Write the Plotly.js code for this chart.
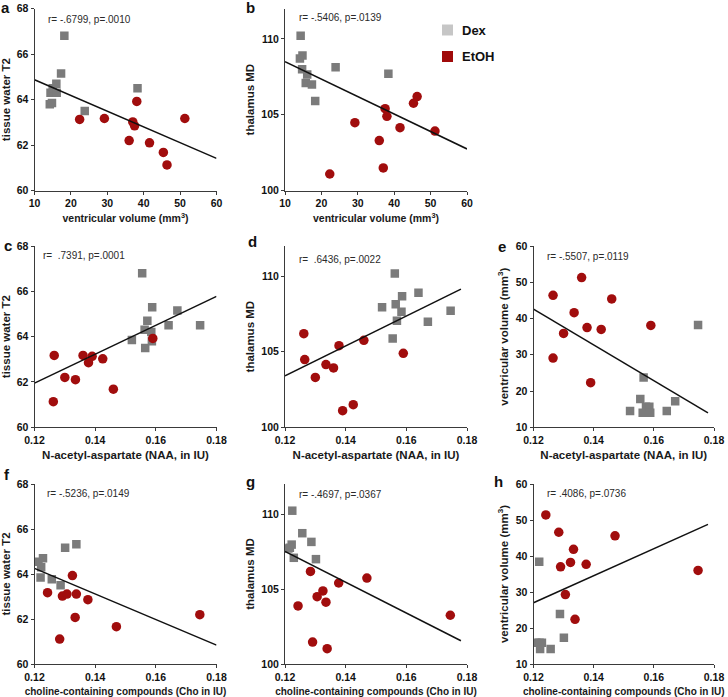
<!DOCTYPE html>
<html><head><meta charset="utf-8">
<script src="https://cdn.plot.ly/plotly-3.0.1.min.js"></script>
<style>html,body{margin:0;padding:0;background:#fff;}</style>
</head><body>
<div id="chart" style="width:728px;height:697px;"></div>
<script>
// ---------- data ----------
// a: ventricular volume vs tissue water T2
const aDexX  = [14.2, 14.8, 14.4, 15.0, 16.0, 16.1, 17.3, 18.2, 23.8, 38.3];
const aDexY  = [63.80, 63.85, 64.30, 64.50, 64.70, 64.30, 65.15, 66.80, 63.50, 64.50];
const aEtohX = [22.4, 29.2, 36.0, 37.0, 37.5, 38.1, 41.6, 45.4, 46.4, 51.3];
const aEtohY = [63.13, 63.17, 62.20, 63.02, 62.85, 63.92, 62.10, 61.68, 61.13, 63.17];
const aFitX  = [10, 60];
const aFitY  = [64.87, 61.42];
// b: ventricular volume vs thalamus MD
const bDexX  = [14.3, 14.8, 14.1, 14.7, 16.1, 15.7, 17.4, 18.3, 23.9, 38.4];
const bDexY  = [110.2, 108.9, 108.7, 108.0, 107.65, 107.1, 107.0, 105.9, 108.13, 107.7];
const bEtohX = [22.3, 29.2, 35.9, 37.0, 37.5, 38.0, 41.6, 45.3, 46.3, 51.2];
const bEtohY = [101.1, 104.48, 103.3, 101.5, 105.4, 104.9, 104.15, 105.76, 106.2, 103.93];
const bFitX  = [10, 60];
const bFitY  = [108.5, 102.75];
// c: NAA vs tissue water T2
const cDexX  = [0.1521, 0.1555, 0.1565, 0.1563, 0.1572, 0.1585, 0.1587, 0.1588, 0.1642, 0.1671, 0.1746];
const cDexY  = [63.85, 66.80, 63.50, 64.30, 64.70, 64.20, 63.80, 65.30, 64.50, 65.15, 64.50];
const cEtohX = [0.1390, 0.1265, 0.1300, 0.1425, 0.1378, 0.1590, 0.1335, 0.1460, 0.1262, 0.1360];
const cEtohY = [63.13, 63.17, 62.20, 63.02, 62.85, 63.92, 62.10, 61.68, 61.13, 63.17];
const cFitX  = [0.12, 0.18];
const cFitY  = [61.95, 65.78];
// d: NAA vs thalamus MD
const dDexX  = [0.1562, 0.1640, 0.1586, 0.1565, 0.1520, 0.1584, 0.1746, 0.1569, 0.1671, 0.1555];
const dDexY  = [110.18, 108.90, 108.67, 108.14, 107.94, 107.65, 107.72, 107.06, 106.99, 105.88];
const dEtohX = [0.1390, 0.1265, 0.1300, 0.1425, 0.1378, 0.1590, 0.1335, 0.1460, 0.1262, 0.1360];
const dEtohY = [101.1, 104.48, 103.3, 101.5, 105.4, 104.9, 104.15, 105.76, 106.2, 103.93];
const dFitX  = [0.12, 0.178];
const dFitY  = [103.4, 109.15];
// e: NAA vs ventricular volume
const eDexX  = [0.1521, 0.1555, 0.1566, 0.1563, 0.1574, 0.1585, 0.1588, 0.1643, 0.1671, 0.1747];
const eDexY  = [14.5, 17.8, 23.7, 14.0, 15.7, 15.7, 14.0, 14.5, 17.2, 38.2];
const eEtohX = [0.1265, 0.1265, 0.1300, 0.1335, 0.1360, 0.1378, 0.1390, 0.1425, 0.1460, 0.1590];
const eEtohY = [46.4, 29.1, 35.9, 41.6, 51.3, 37.5, 22.3, 37.0, 45.4, 38.1];
const eFitX  = [0.12, 0.178];
const eFitY  = [42.6, 14.0];
// f: Cho vs tissue water T2
const fDexX  = [0.1213, 0.1228, 0.1222, 0.1220, 0.1257, 0.1286, 0.1301, 0.1338];
const fDexY  = [64.55, 64.70, 64.30, 63.85, 63.77, 63.50, 65.17, 65.32];
const fEtohX = [0.1243, 0.1283, 0.1292, 0.1307, 0.1325, 0.1334, 0.1338, 0.1376, 0.1470, 0.1745];
const fEtohY = [63.17, 61.11, 63.02, 63.11, 63.93, 62.07, 63.11, 62.86, 61.66, 62.19];
const fFitX  = [0.12, 0.18];
const fFitY  = [64.25, 60.84];
// g: Cho vs thalamus MD
const gDexX  = [0.1224, 0.1257, 0.1287, 0.1222, 0.1211, 0.1216, 0.1229, 0.1302];
const gDexY  = [110.22, 108.72, 108.14, 107.96, 107.70, 107.75, 107.08, 106.99];
const gEtohX = [0.1243, 0.1284, 0.1291, 0.1306, 0.1325, 0.1335, 0.1339, 0.1377, 0.1470, 0.1745];
const gEtohY = [103.87, 106.17, 101.46, 104.49, 104.87, 104.12, 101.02, 105.40, 105.73, 103.25];
const gFitX  = [0.12, 0.178];
const gFitY  = [107.5, 101.55];
// h: Cho vs ventricular volume
const hDexX  = [0.1219, 0.1288, 0.1301, 0.1209, 0.1220, 0.1228, 0.1222, 0.1257];
const hDexY  = [38.4, 23.9, 17.3, 15.9, 15.9, 15.9, 14.2, 14.2];
const hEtohX = [0.1241, 0.1284, 0.1290, 0.1306, 0.1323, 0.1333, 0.1338, 0.1375, 0.1471, 0.1747];
const hEtohY = [51.4, 46.6, 37.0, 29.3, 38.2, 41.85, 22.4, 37.7, 45.6, 36.0];
const hFitX  = [0.12, 0.178];
const hFitY  = [27.0, 48.8];

// axis labels / ticks
const vvTicks  = [10, 20, 30, 40, 50, 60];
const mrsTicks = [0.12, 0.14, 0.16, 0.18];
const t2Ticks  = [60, 62, 64, 66, 68];
const mdTicks  = [100, 105, 110];
const vvYTicks = [10, 20, 30, 40, 50, 60];
const statTexts = ['r= -.6799, p=.0010', 'r= -.5406, p=.0139', 'r=\u00a0\u00a0.7391, p=.0001',
                   'r=\u00a0\u00a0.6436, p=.0022', 'r= -.5507, p=.0119', 'r= -.5236, p=.0149',
                   'r= -.4697, p=.0367', 'r= .4086, p=.0736'];
const panelLetters = ['a', 'b', 'c', 'd', 'e', 'f', 'g', 'h'];
const groupNames = ['Dex', 'EtOH'];

// ---------- layout ----------
const W = 728, H = 697;
const FONT = 'Liberation Sans, Arial, sans-serif';
const colDom = [[34.5, 216.5], [285, 467], [533.5, 714]];
const rowDom = [[8.5, 190.7], [246, 427.3], [484, 664]];
const px = v => v / W;
const py = v => 1 - v / H;

const vvTitle  = 'ventricular volume (mm<sup>3</sup>)';
const panels = [
  {dx: aDexX, dy: aDexY, ex: aEtohX, ey: aEtohY, fx: aFitX, fy: aFitY, col: 0, row: 0,
   xr: [10, 60], xt: vvTicks, xfmt: '', xtitle: vvTitle, xs: 10.5,
   yr: [60, 68], yt: t2Ticks, ytitle: 'tissue water T2', tx: 0.065, ty: 0.94,
   lx: 5, ly: 7.5},
  {dx: bDexX, dy: bDexY, ex: bEtohX, ey: bEtohY, fx: bFitX, fy: bFitY, col: 1, row: 0,
   xr: [10, 60], xt: vvTicks, xfmt: '', xtitle: vvTitle, xs: 10.5,
   yr: [100, 112], yt: mdTicks, ytitle: 'thalamus MD', tx: 0.068, ty: 0.95,
   lx: 250.5, ly: 7.5},
  {dx: cDexX, dy: cDexY, ex: cEtohX, ey: cEtohY, fx: cFitX, fy: cFitY, col: 0, row: 1,
   xr: [0.12, 0.18], xt: mrsTicks, xfmt: '.2f', xtitle: 'N-acetyl-aspartate (NAA, in IU)', xs: 11.5,
   yr: [60, 68], yt: t2Ticks, ytitle: 'tissue water T2', tx: 0.035, ty: 0.945,
   lx: 7.5, ly: 245.5},
  {dx: dDexX, dy: dDexY, ex: dEtohX, ey: dEtohY, fx: dFitX, fy: dFitY, col: 1, row: 1,
   xr: [0.12, 0.18], xt: mrsTicks, xfmt: '.2f', xtitle: 'N-acetyl-aspartate (NAA, in IU)', xs: 11.5,
   yr: [100, 112], yt: mdTicks, ytitle: 'thalamus MD', tx: 0.064, ty: 0.925,
   lx: 252, ly: 241.5},
  {dx: eDexX, dy: eDexY, ex: eEtohX, ey: eEtohY, fx: eFitX, fy: eFitY, col: 2, row: 1,
   xr: [0.12, 0.18], xt: mrsTicks, xfmt: '.2f', xtitle: 'N-acetyl-aspartate (NAA, in IU)', xs: 11.5,
   yr: [10, 60], yt: vvYTicks, ytitle: vvTitle, tx: 0.061, ty: 0.94,
   lx: 502, ly: 246.5},
  {dx: fDexX, dy: fDexY, ex: fEtohX, ey: fEtohY, fx: fFitX, fy: fFitY, col: 0, row: 2,
   xr: [0.12, 0.18], xt: mrsTicks, xfmt: '.2f', xtitle: 'choline-containing compounds (Cho in IU)', xs: 10,
   yr: [60, 68], yt: t2Ticks, ytitle: 'tissue water T2', tx: 0.06, ty: 0.948,
   lx: 6.5, ly: 474.5},
  {dx: gDexX, dy: gDexY, ex: gEtohX, ey: gEtohY, fx: gFitX, fy: gFitY, col: 1, row: 2,
   xr: [0.12, 0.18], xt: mrsTicks, xfmt: '.2f', xtitle: 'choline-containing compounds (Cho in IU)', xs: 10,
   yr: [100, 112], yt: mdTicks, ytitle: 'thalamus MD', tx: 0.068, ty: 0.94,
   lx: 250, ly: 481.5},
  {dx: hDexX, dy: hDexY, ex: hEtohX, ey: hEtohY, fx: hFitX, fy: hFitY, col: 2, row: 2,
   xr: [0.12, 0.18], xt: mrsTicks, xfmt: '.2f', xtitle: 'choline-containing compounds (Cho in IU)', xs: 10,
   yr: [10, 60], yt: vvYTicks, ytitle: vvTitle, tx: 0.061, ty: 0.948,
   lx: 498, ly: 481.5}
];

const DEX_COLOR = '#7b7b7b', ETOH_COLOR = '#a10d0d', LINE_COLOR = '#111111';
const AXIS_COLOR = '#3a3a3a';
const traces = [];
const layout = {
  width: W, height: H, margin: {l: 0, r: 0, t: 0, b: 0},
  paper_bgcolor: '#ffffff', plot_bgcolor: '#ffffff',
  showlegend: false, hovermode: false,
  font: {family: FONT, color: '#111'},
  annotations: [], shapes: []
};

panels.forEach((p, i) => {
  const n = i + 1;
  const xa = n === 1 ? 'x' : 'x' + n;
  const ya = n === 1 ? 'y' : 'y' + n;
  traces.push({type: 'scatter', mode: 'markers', x: p.dx, y: p.dy, xaxis: xa, yaxis: ya,
    name: groupNames[0], marker: {symbol: 'square', size: 8.5, color: DEX_COLOR}});
  traces.push({type: 'scatter', mode: 'markers', x: p.ex, y: p.ey, xaxis: xa, yaxis: ya,
    name: groupNames[1], marker: {symbol: 'circle', size: 9.5, color: ETOH_COLOR}});
  traces.push({type: 'scatter', mode: 'lines', x: p.fx, y: p.fy, xaxis: xa, yaxis: ya,
    line: {color: LINE_COLOR, width: 1.5}});
  const cd = colDom[p.col], rd = rowDom[p.row];
  const axBase = {showline: true, linecolor: AXIS_COLOR, linewidth: 1, ticks: 'outside',
    ticklen: 3, tickcolor: AXIS_COLOR, showgrid: false, zeroline: false, automargin: false,
    fixedrange: true, tickfont: {family: FONT, size: 10.5, color: '#111', weight: 'bold'}};
  layout['xaxis' + (n === 1 ? '' : n)] = Object.assign({}, axBase, {
    domain: [px(cd[0]), px(cd[1])], anchor: ya, range: p.xr,
    tickvals: p.xt, tickformat: p.xfmt,
    title: {text: p.xtitle, standoff: 6, font: {family: FONT, size: p.xs, color: '#1a1a1a', weight: 'bold'}}
  });
  layout['yaxis' + (n === 1 ? '' : n)] = Object.assign({}, axBase, {
    domain: [py(rd[1]), py(rd[0])], anchor: xa, range: p.yr, tickvals: p.yt,
    title: {text: p.ytitle, standoff: 4, font: {family: FONT, size: 11.5, color: '#1a1a1a', weight: 'bold'}}
  });
  layout.annotations.push({xref: xa + ' domain', yref: ya + ' domain', x: p.tx, y: p.ty,
    xanchor: 'left', yanchor: 'middle', showarrow: false, text: statTexts[i],
    font: {family: FONT, size: 10, color: '#2a2a2a'}});
  layout.annotations.push({xref: 'paper', yref: 'paper', x: px(p.lx), y: py(p.ly),
    xanchor: 'center', yanchor: 'middle', showarrow: false, text: panelLetters[i],
    font: {family: FONT, size: 15, color: '#111', weight: 'bold'}});
});

// legend (drawn in panel b's free area)
const legendItems = [
  {name: groupNames[0], color: '#c6c6c6', cy: 30},
  {name: groupNames[1], color: '#a00a0a', cy: 56.5}
];
legendItems.forEach(it => {
  layout.shapes.push({type: 'rect', xref: 'paper', yref: 'paper',
    x0: px(442), x1: px(453), y0: py(it.cy + 5.5), y1: py(it.cy - 5.5),
    fillcolor: it.color, line: {width: 0}});
  layout.annotations.push({xref: 'paper', yref: 'paper', x: px(460), y: py(it.cy),
    xanchor: 'left', yanchor: 'middle', showarrow: false, text: it.name,
    font: {family: FONT, size: 13, color: '#111', weight: 'bold'}});
});

Plotly.newPlot('chart', traces, layout, {staticPlot: true, displayModeBar: false});
</script>
</body></html>
